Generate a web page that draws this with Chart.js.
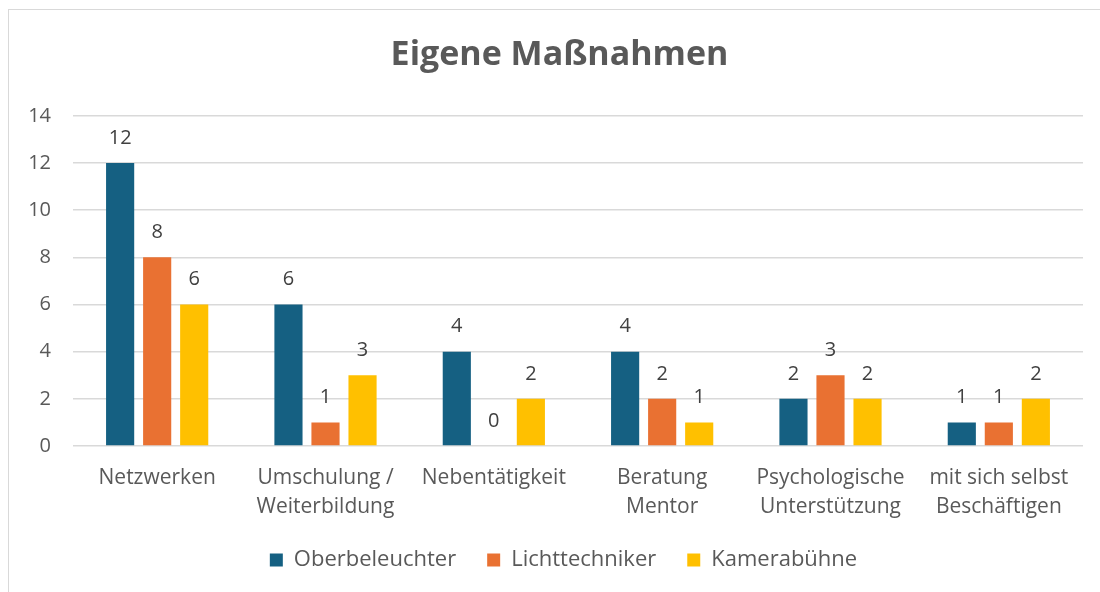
<!DOCTYPE html>
<html>
<head>
<meta charset="utf-8">
<script src="https://cdn.jsdelivr.net/npm/chart.js@4.4.0/dist/chart.umd.min.js"></script>
<style>
  html, body { margin: 0; padding: 0; background: #fff; }
  #wrap { position: relative; width: 1100px; height: 592px; overflow: hidden; }
  #frame { position: absolute; left: 8px; top: 9px; width: 1110px; height: 620px; border: 1px solid #d9d9d9; box-sizing: border-box; }
  #c { position: absolute; left: 0; top: 0; }
</style>
</head>
<body>
<div id="wrap">
  <div id="frame"></div>
  <canvas id="c" width="1100" height="592"></canvas>
</div>
<script>
const categories = [
    'Netzwerken',
    ['Umschulung /', 'Weiterbildung'],
    'Nebentätigkeit',
    ['Beratung', 'Mentor'],
    ['Psychologische', 'Unterstützung'],
    ['mit sich selbst', 'Beschäftigen']
];
const oberbeleuchter = [12, 6, 4, 4, 2, 1];
const lichttechniker = [8, 1, 0, 2, 3, 1];
const kamerabuehne = [6, 3, 2, 1, 2, 2];

const FONT = '"Open Sans", "Noto Sans", sans-serif';
const grey = '#595959';

// simple value labels above the bars
const valueLabels = {
    id: 'valueLabels',
    afterDatasetsDraw(chart) {
        const ctx = chart.ctx;
        ctx.save();
        ctx.font = '20px ' + FONT;
        ctx.fillStyle = '#404040';
        ctx.textAlign = 'center';
        ctx.textBaseline = 'middle';
        chart.data.datasets.forEach((ds, i) => {
            chart.getDatasetMeta(i).data.forEach((bar, j) => {
                ctx.fillText(ds.data[j], bar.x, bar.y - 25);
            });
        });
        ctx.restore();
    }
};

// title and legend are centred on the whole frame in the original, nudge them right
const centreShift = {
    id: 'centreShift',
    afterLayout(chart) {
        chart.titleBlock.left += 18;
        chart.titleBlock.right += 18;
        chart.legend.left += 22;
        chart.legend.right += 22;
    }
};

new Chart(document.getElementById('c').getContext('2d'), {
    type: 'bar',
    data: {
        labels: categories,
        datasets: [
            { label: 'Oberbeleuchter', data: oberbeleuchter, backgroundColor: '#156082' },
            { label: 'Lichttechniker', data: lichttechniker, backgroundColor: '#E97132' },
            { label: 'Kamerabühne', data: kamerabuehne, backgroundColor: '#FFC000' }
        ]
    },
    options: {
        responsive: false,
        animation: false,
        layout: { padding: { left: 0, right: 17, top: 0, bottom: 11 } },
        datasets: {
            bar: { categoryPercentage: 0.66, barPercentage: 0.76 }
        },
        scales: {
            x: {
                grid: { display: false },
                border: { display: false },
                ticks: { color: grey, font: { family: FONT, size: 21, lineHeight: 1.38 }, padding: 10, maxRotation: 0, autoSkip: false },
                afterFit(scale) { scale.height = 72; }
            },
            y: {
                min: 0,
                max: 14,
                grid: { color: '#d9d9d9', lineWidth: 1.5, drawTicks: false },
                border: { display: false },
                ticks: { stepSize: 2, color: grey, font: { family: FONT, size: 20 }, padding: 22 },
                afterFit(scale) { scale.width = 73; }
            }
        },
        plugins: {
            title: {
                display: true,
                text: 'Eigene Maßnahmen',
                color: grey,
                font: { family: FONT, size: 34, weight: 'bold' },
                padding: { top: 35, bottom: 40 }
            },
            legend: {
                position: 'bottom',
                labels: {
                    color: grey,
                    font: { family: FONT, size: 22 },
                    boxWidth: 13,
                    boxHeight: 13,
                    padding: 31
                }
            },
            tooltip: { enabled: false }
        }
    },
    plugins: [valueLabels, centreShift]
});
</script>
</body>
</html>
